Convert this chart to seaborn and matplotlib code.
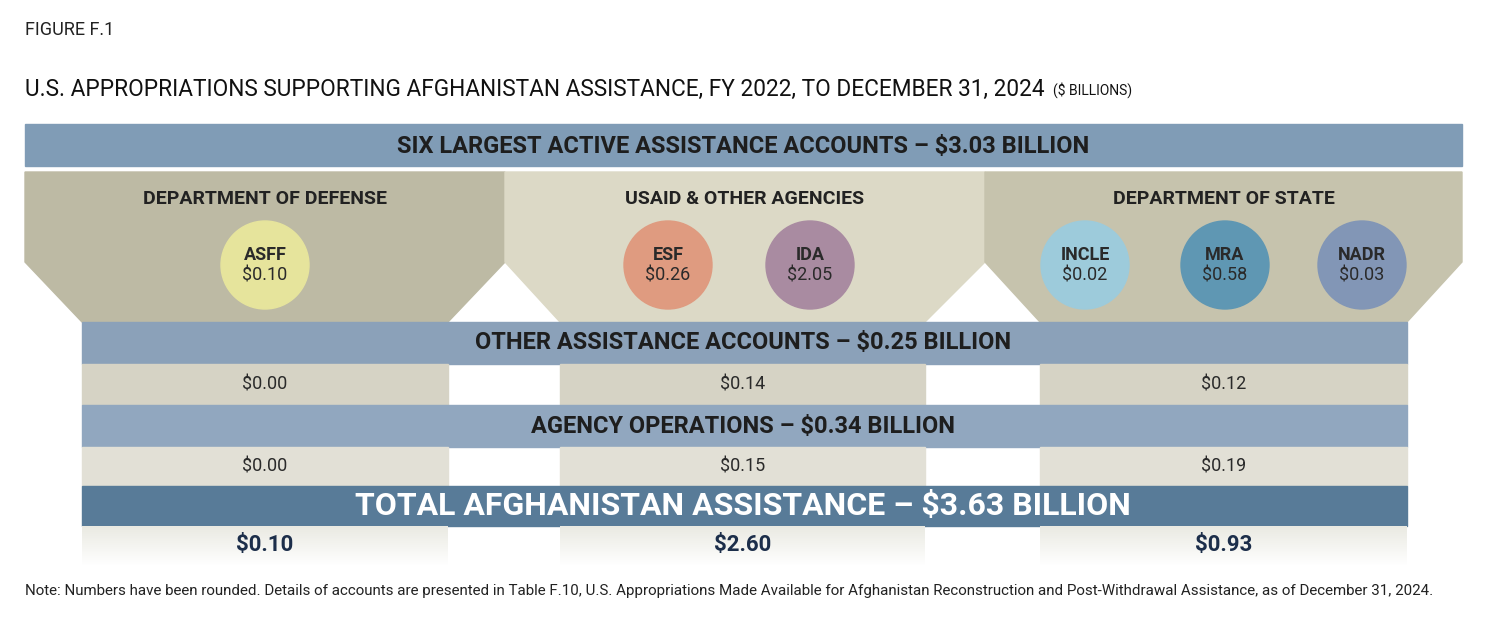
import matplotlib
matplotlib.use("Agg")
import matplotlib.pyplot as plt
from matplotlib.patches import Polygon, Circle, Rectangle
import numpy as np
import seaborn as sns

sns.set_theme(style="white")
plt.rcParams["font.family"] = ["Roboto", "DejaVu Sans"]

agencies = ["DEPARTMENT OF DEFENSE", "USAID & OTHER AGENCIES", "DEPARTMENT OF STATE"]
accounts = [["ASFF"], ["ESF", "IDA"], ["INCLE", "MRA", "NADR"]]
account_values = [[0.10], [0.26, 2.05], [0.02, 0.58, 0.03]]
other_values = [0.00, 0.14, 0.12]
operations_values = [0.00, 0.15, 0.19]
agency_totals = [0.10, 2.60, 0.93]
six_total, other_total, ops_total, grand_total = 3.03, 0.25, 0.34, 3.63
circle_colors = [["#e6e49c"], ["#df9b80", "#a98ba1"], ["#9dcbdb", "#5f97b3", "#8296b6"]]
panel_colors = ["#bdbaa4", "#dcd9c6", "#c6c3ad"]

fig = plt.figure(figsize=(14.92, 6.18), dpi=100)
ax = fig.add_axes([0, 0, 1, 1])
ax.set_xlim(0, 1492); ax.set_ylim(618, 0); ax.axis("off")

ax.text(25, 30, "FIGURE F.1", fontsize=13, va="center", color="#222")
title = ax.text(25, 89, "U.S. APPROPRIATIONS SUPPORTING AFGHANISTAN ASSISTANCE, FY 2022, TO DECEMBER 31, 2024",
                fontsize=16.3, va="center", color="#111")
ax.annotate("($ BILLIONS)", xy=(1, 0.5), xycoords=title, xytext=(6, -1), textcoords="offset points",
            fontsize=10, va="center", color="#111")

ax.add_patch(Rectangle((25, 124), 1437, 42, color="#809cb6"))
ax.text(743, 146, f"SIX LARGEST ACTIVE ASSISTANCE ACCOUNTS – ${six_total:.2f} BILLION",
        fontsize=17, weight="bold", ha="center", va="center", color="#1e1e1e")

panels = [(25, 505, 82, 448), (505, 985, 560, 925), (985, 1462, 1040, 1407)]
for i, (x0, x1, b0, b1) in enumerate(panels):
    ax.add_patch(Polygon([(x0, 172), (x1, 172), (x1, 262), (b1, 322), (b0, 322), (x0, 262)],
                         color=panel_colors[i], zorder=1))
    ax.text((x0 + x1) / 2, 199, agencies[i], fontsize=14, weight="bold", ha="center",
            va="center", color="#222")
    n = len(accounts[i])
    cx = {1: [265], 2: [668, 810], 3: [1085, 1225, 1362]}[n]
    for j in range(n):
        ax.add_patch(Circle((cx[j], 265), 44, color=circle_colors[i][j], zorder=2))
        ax.text(cx[j], 255, accounts[i][j], fontsize=13, weight="bold", ha="center", va="center", color="#2a2a2a", zorder=3)
        ax.text(cx[j], 276, f"${account_values[i][j]:.2f}", fontsize=13, ha="center", va="center", color="#2a2a2a", zorder=3)

cells = [(82, 448), (560, 925), (1040, 1407)]
def banner(y, h, color, text, size, tcolor):
    ax.add_patch(Rectangle((82, y), 1325, h, color=color, zorder=2))
    ax.text(743, y + h / 2, text, fontsize=size, weight="bold", ha="center", va="center", color=tcolor, zorder=3)

def row(y, h, vals, color, bold=False, tcolor="#2a2a2a", size=13):
    for (a, b), v in zip(cells, vals):
        ax.add_patch(Rectangle((a, y), b - a, h, color=color, zorder=2))
        ax.text((a + b) / 2, y + h / 2, f"${v:.2f}", fontsize=size, weight="bold" if bold else "normal",
                ha="center", va="center", color=tcolor, zorder=3)

banner(322, 42, "#8ba1b9", f"OTHER ASSISTANCE ACCOUNTS – ${other_total:.2f} BILLION", 17, "#1e1e1e")
row(364, 41, other_values, "#d6d3c5")
banner(405, 42, "#91a7bf", f"AGENCY OPERATIONS – ${ops_total:.2f} BILLION", 17, "#1e1e1e")
row(447, 39, operations_values, "#e2e0d6")
banner(486, 40, "#587b98", f"TOTAL AFGHANISTAN ASSISTANCE – ${grand_total:.2f} BILLION", 23, "white")
grad = np.linspace(0, 1, 40)[:, None]
for a, b in cells:
    ax.imshow(np.dstack([np.ones((40, 1)) * c for c in (0.92, 0.92, 0.89)] + [1 - grad]),
              extent=(a, b, 566, 526), aspect="auto", zorder=2)
for (a, b), v in zip(cells, agency_totals):
    ax.text((a + b) / 2, 545, f"${v:.2f}", fontsize=16, weight="bold", ha="center", va="center", color="#1c2e4a", zorder=3)
ax.set_xlim(0, 1492); ax.set_ylim(618, 0)

ax.text(25, 591, "Note: Numbers have been rounded. Details of accounts are presented in Table F.10, U.S. Appropriations Made Available for Afghanistan Reconstruction and Post-Withdrawal Assistance, as of December 31, 2024.",
        fontsize=10.9, va="center", color="#222")

fig.savefig("out.png", dpi=100)
